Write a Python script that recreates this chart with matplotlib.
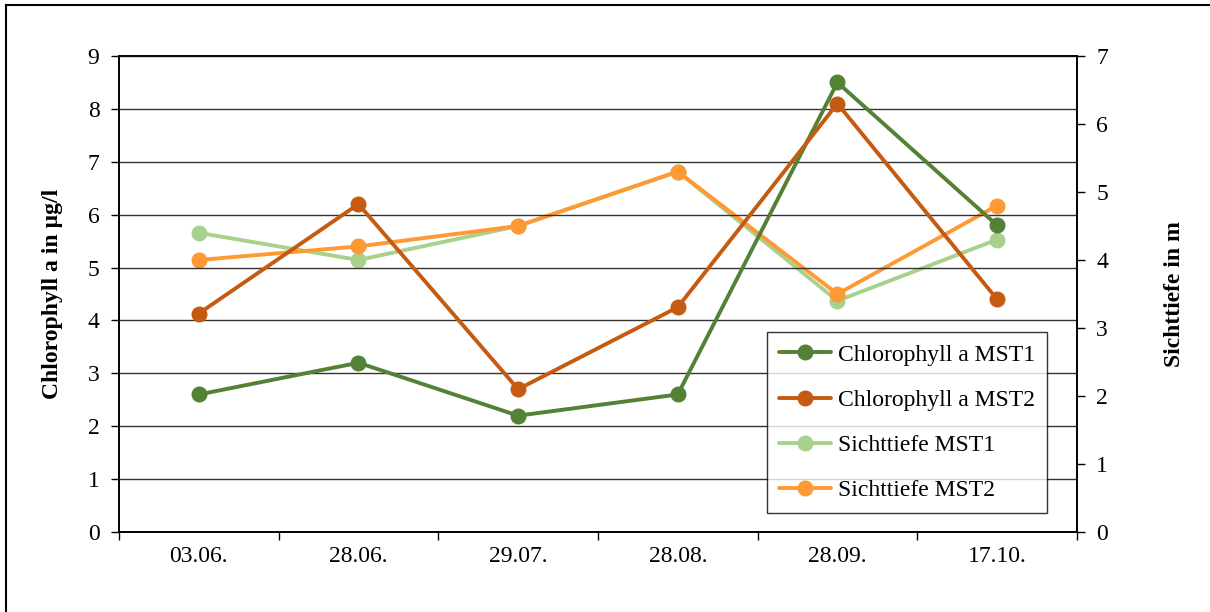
import matplotlib.pyplot as plt
from matplotlib.lines import Line2D

plt.rcParams['font.family'] = ['Liberation Serif', 'DejaVu Serif']

# Messtermine
dates = ['03.06.', '28.06.', '29.07.', '28.08.', '28.09.', '17.10.']

# Chlorophyll a in µg/l
chl_mst1 = [2.6, 3.2, 2.2, 2.6, 8.5, 5.8]
chl_mst2 = [4.13, 6.2, 2.7, 4.25, 8.1, 4.4]

# Sichttiefe in m
st_mst1 = [4.4, 4.0, 4.5, 5.3, 3.4, 4.3]
st_mst2 = [4.0, 4.2, 4.5, 5.3, 3.5, 4.8]

c_chl1 = '#538135'
c_chl2 = '#c55a11'
c_st1 = '#a9d18e'
c_st2 = '#ff9933'

fig = plt.figure(figsize=(12.1, 6.12), dpi=100)
ax = fig.add_axes([0.0983, 0.1307, 0.7917, 0.7778])
ax2 = ax.twinx()

x = list(range(len(dates)))
kw = dict(lw=2.8, marker='o', ms=10.5, solid_capstyle='round')

l3, = ax2.plot(x, st_mst1, color=c_st1, label='Sichttiefe MST1', **kw)
l4, = ax2.plot(x, st_mst2, color=c_st2, label='Sichttiefe MST2', **kw)
l1, = ax.plot(x, chl_mst1, color=c_chl1, label='Chlorophyll a MST1', **kw)
l2, = ax.plot(x, chl_mst2, color=c_chl2, label='Chlorophyll a MST2', **kw)

ax.set_zorder(ax2.get_zorder() + 1)
ax.patch.set_visible(False)

ax.set_ylim(0, 9)
ax.set_yticks(range(0, 10))
ax2.set_ylim(0, 7)
ax2.set_yticks(range(0, 8))
ax.set_xlim(-0.5, 5.5)
ax.set_xticks([i - 0.5 for i in range(len(dates) + 1)])
ax.set_xticklabels([])
ax.set_xticks(x, minor=True)
ax.set_xticklabels(dates, minor=True)
ax.tick_params(axis='x', which='minor', length=0, pad=10, labelsize=17)
ax.tick_params(axis='x', which='major', length=6, direction='out', width=1)
ax.tick_params(axis='y', length=6, width=1, labelsize=17, pad=8)
ax2.tick_params(axis='y', length=6, width=1, labelsize=17, pad=8)

ax.yaxis.grid(True, color='#333333', lw=1)
ax.set_axisbelow(True)
for a in (ax, ax2):
    for s in a.spines.values():
        s.set_color('black')
        s.set_linewidth(1.2)

ax.set_ylabel('Chlorophyll a in µg/l', fontsize=17, fontweight='bold', labelpad=18)
ax2.set_ylabel('Sichttiefe in m', fontsize=17, fontweight='bold', labelpad=40)

leg = ax.legend(handles=[l1, l2, l3, l4], loc='lower left',
                bbox_to_anchor=(0.677, 0.04), borderaxespad=0, fontsize=17,
                frameon=True, fancybox=False, edgecolor='black', borderpad=0.5,
                handlelength=2.2, labelspacing=1.0, handletextpad=0.3)
leg.get_frame().set_linewidth(1)

# Rahmen oben und links
fig.add_artist(Line2D([0.005, 0.005], [0.0, 0.992], color='black', lw=1.5))
fig.add_artist(Line2D([0.005, 1.0], [0.992, 0.992], color='black', lw=1.5))

plt.savefig('out.png', dpi=100)
